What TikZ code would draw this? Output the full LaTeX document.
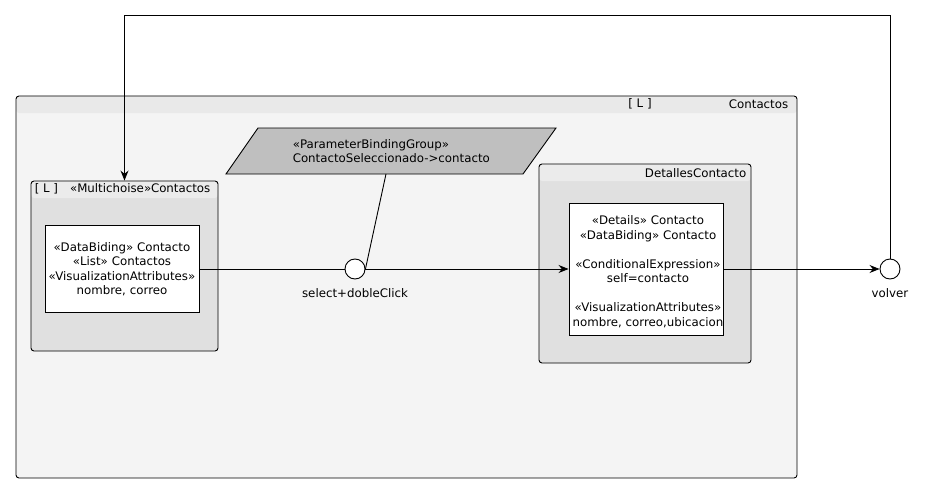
\documentclass[tikz,border=0pt]{standalone}
\usepackage{fontspec}
\setmainfont{DejaVu Sans}
\usetikzlibrary{arrows.meta}

\definecolor{pagebg}{HTML}{F4F4F4}
\definecolor{pagehd}{HTML}{E9E9E9}
\definecolor{boxbg}{HTML}{E0E0E0}
\definecolor{boxhd}{HTML}{EBEBEB}
\definecolor{bindbg}{HTML}{BFBFBF}

\begin{document}
\begin{tikzpicture}[x=1pt,y=-1pt,line width=0.9pt,
  every node/.style={font=\fontsize{11.8}{14.5}\selectfont},
  frame/.style={draw,rounded corners=3pt,inner sep=0pt},
  header/.style={path picture={\fill[#1] (path picture bounding box.north west)
      rectangle ([yshift=-17pt]path picture bounding box.north east);}},
  widget/.style={draw,fill=white,inner sep=0pt,align=center},
  port/.style={circle,draw,fill=white,minimum size=20pt,inner sep=0pt},
  flow/.style={-{Stealth[length=10pt,width=8pt]}}]
  \useasboundingbox (0,0) rectangle (927,495);

  % pantalla principal
  \node[frame,fill=pagebg,header=pagehd,minimum width=781pt,minimum height=382pt] (page) at (406.5,287) {};
  \node at (640,104) {[ L ]};
  \node[anchor=east] at (792,104) {Contactos};

  % lista de contactos
  \node[frame,fill=boxbg,header=boxhd,minimum width=187pt,minimum height=170pt] (multi) at (124.5,266) {};
  \node[anchor=west] at (31,189) {[ L ]\hspace{12pt}«Multichoise»Contactos};
  \node[widget,text width=154pt,minimum height=87pt] (lista) at (122,269)
    {«DataBiding» Contacto\\«List» Contactos\\«VisualizationAttributes»\\nombre, correo};

  % detalle
  \node[frame,fill=boxbg,header=boxhd,minimum width=212pt,minimum height=199pt] (detalles) at (645,263.5) {};
  \node[anchor=east] at (750,173) {DetallesContacto};
  \node[widget,minimum width=154pt,minimum height=132pt] (detalle) at (646,269) {};
  \node[align=center] (detalletxt) at (648,271.5)
    {«Details» Contacto\\«DataBiding» Contacto\\[14.5pt]«ConditionalExpression»\\self=contacto\\[14.5pt]«VisualizationAttributes»\\nombre, correo,ubicacion};

  % parametros
  \fill[bindbg] (258,128) -- (556,128) -- (523,174) -- (226,174) -- cycle;
  \draw (258,128) -- (556,128) -- (523,174) -- (226,174) -- cycle;
  \node[align=left,anchor=west] (binding) at (289,151) {«ParameterBindingGroup»\\ContactoSeleccionado->contacto};
  \coordinate (bindfoot) at (386,174);

  % eventos
  \node[port] (select) at (355,269) {};
  \node at (355,293) {select+dobleClick};
  \node[port] (volver) at (890,269) {};
  \node at (890,293) {volver};
  \coordinate (turn) at (890,15);

  \draw (lista.east) -- (select.west);
  \draw (bindfoot) -- (select.east);
  \draw[flow] (select.east) -- (detalle.west);
  \draw[flow] (detalle.east) -- (volver.west);
  \draw[flow] (volver.north) -- (turn) -| (multi.north);
\end{tikzpicture}
\end{document}
